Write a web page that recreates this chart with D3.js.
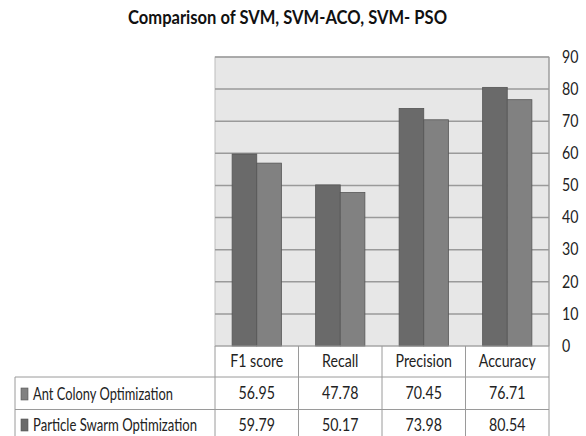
<!DOCTYPE html>
<html><head><meta charset="utf-8">
<script src="https://cdn.jsdelivr.net/npm/d3@7/dist/d3.min.js"></script>
<style>
html,body{margin:0;padding:0;background:#fff;}
svg{display:block;}
text{font-family:Lato,"Open Sans",sans-serif;fill:#222;}
</style></head><body>
<script>
const title = "Comparison of SVM, SVM-ACO, SVM- PSO";
const categories = ["F1 score","Recall","Precision","Accuracy"];
const seriesNames = ["Ant Colony Optimization","Particle Swarm Optimization"];
const acoValues = [56.95,47.78,70.45,76.71];
const psoValues = [59.79,50.17,73.98,80.54];
const acoLabels = ["56.95","47.78","70.45","76.71"];
const psoLabels = ["59.79","50.17","73.98","80.54"];
const yTicks = [0,10,20,30,40,50,60,70,80,90];

const W=586,H=436;
const svg=d3.select("body").append("svg").attr("width",W).attr("height",H);
const L=215,R=549,T=57,B=346;
const colors={aco:"#818181",pso:"#6a6a6a"};
const SX=0.86, FS="16.5px";

const y=d3.scaleLinear().domain([0,90]).range([B,T]);
const x0=d3.scaleBand().domain(categories).range([L,R]).paddingInner(0.41).paddingOuter(0.205);
const xcol=d3.scaleBand().domain(categories).range([L,R]);
const barOrder=["pso","aco"];
const x1=d3.scaleBand().domain(barOrder).range([0,x0.bandwidth()]);

function ntext(sel,x,y,anchor,txt){
  return sel.append("text").attr("transform",`translate(${x},${y}) scale(${SX},1)`)
    .attr("dy","0.35em").attr("text-anchor",anchor).style("font-size",FS).text(txt);
}

// title
svg.append("text").attr("x",287.5).attr("y",24).attr("text-anchor","middle")
  .attr("textLength",319).attr("lengthAdjust","spacingAndGlyphs")
  .style("font-size","19.5px").style("font-weight","bold").style("fill","#111").text(title);

// plot bg
svg.append("rect").attr("x",L).attr("y",T).attr("width",R-L).attr("height",B-T)
  .attr("fill","#e7e7e7").attr("stroke","#bdbdbd").attr("stroke-width",1);

// gridlines
svg.append("g").selectAll("line").data(yTicks.filter(d=>d>0)).join("line")
  .attr("x1",L).attr("x2",R).attr("y1",d=>y(d)).attr("y2",d=>y(d))
  .attr("stroke","#9a9a9a").attr("stroke-width",1.5);
svg.append("line").attr("x1",R).attr("x2",R).attr("y1",T).attr("y2",B).attr("stroke","#9a9a9a").attr("stroke-width",1.2);

// axis (right)
const axis=d3.axisRight(y).tickValues(yTicks).tickSize(0).tickPadding(0);
const ag=svg.append("g").attr("transform",`translate(562,0)`).call(axis);
ag.select(".domain").remove();
ag.selectAll("text").attr("font-family",null).style("font-size",FS).style("fill","#222")
  .attr("dy","0.32em").attr("transform",`scale(${SX},1)`).attr("x",0);

// bars
const data=categories.map((c,i)=>({c,vals:{aco:acoValues[i],pso:psoValues[i]}}));
const g=svg.append("g");
data.forEach(d=>{
  g.selectAll(null).data(barOrder).join("rect")
    .attr("x",k=>x0(d.c)+x1(k)).attr("width",x1.bandwidth())
    .attr("y",k=>y(d.vals[k])).attr("height",k=>B-y(d.vals[k]))
    .attr("fill",k=>colors[k]).attr("stroke","#555").attr("stroke-width",0.8);
});

// table
const lineC="#9a9a9a";
const tg=svg.append("g");
tg.append("line").attr("x1",L).attr("x2",R).attr("y1",B).attr("y2",B).attr("stroke",lineC);
tg.append("line").attr("x1",15).attr("x2",R).attr("y1",377).attr("y2",377).attr("stroke",lineC);
tg.append("line").attr("x1",15).attr("x2",R).attr("y1",409.5).attr("y2",409.5).attr("stroke",lineC);
tg.append("line").attr("x1",15).attr("x2",15).attr("y1",377).attr("y2",H).attr("stroke",lineC);
const vx=categories.map(c=>xcol(c)).concat([R]);
tg.selectAll(null).data(vx).join("line").attr("x1",d=>d).attr("x2",d=>d)
  .attr("y1",B).attr("y2",H).attr("stroke",lineC);

categories.forEach((c,i)=>{
  const cx=xcol(c)+xcol.bandwidth()/2;
  ntext(tg,cx,361,"middle",c);
  ntext(tg,cx,393.5,"middle",acoLabels[i]);
  ntext(tg,cx,425.5,"middle",psoLabels[i]);
});

// legend labels
const legKeys=["aco","pso"];
const legW=[140,164];
seriesNames.forEach((n,i)=>{
  const cy=[394,425][i];
  tg.append("rect").attr("x",21).attr("y",cy-6).attr("width",7).attr("height",12)
    .attr("fill",colors[legKeys[i]]).attr("stroke","#555").attr("stroke-width",0.6);
  tg.append("text").attr("x",33).attr("y",cy).attr("dy","0.35em").style("font-size",FS)
    .attr("textLength",legW[i]).attr("lengthAdjust","spacingAndGlyphs").text(n);
});
</script>
</body></html>
